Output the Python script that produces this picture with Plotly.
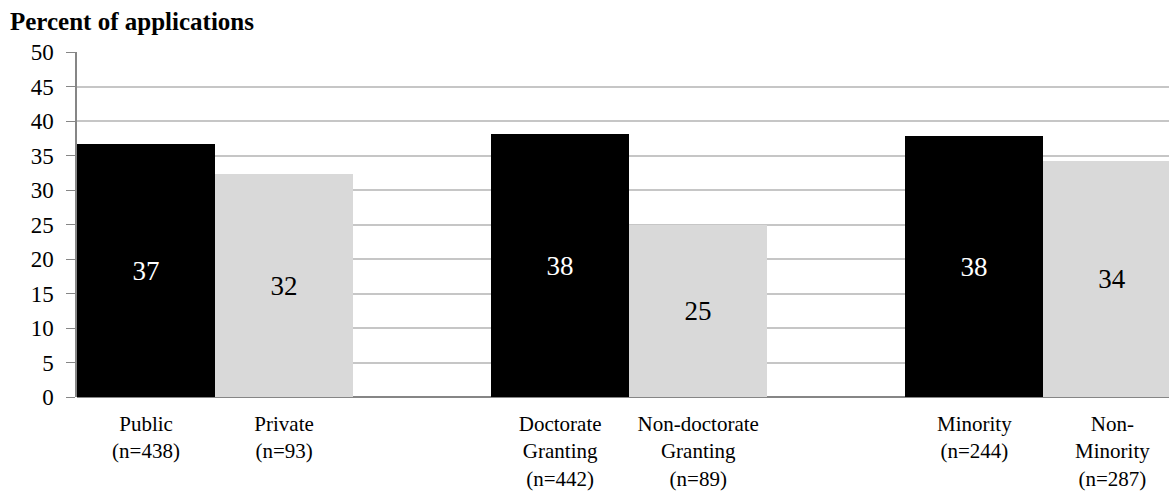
import plotly.graph_objects as go

# ---- data ----
groups = ["Type", "Degree", "Minority status"]
categories = [
    "Public<br>(n=438)", "Private<br>(n=93)",
    "Doctorate<br>Granting<br>(n=442)", "Non-doctorate<br>Granting<br>(n=89)",
    "Minority<br>(n=244)", "Non-<br>Minority<br>(n=287)",
]
values = [36.6, 32.3, 38.1, 24.9, 37.8, 34.2]
group_index = [0, 0, 1, 1, 2, 2]
member_index = [0, 1, 0, 1, 0, 1]
y_ticks = [0, 5, 10, 15, 20, 25, 30, 35, 40, 45, 50]

# ---- styling ----
bar_colors = ["#000000", "#d9d9d9"]
text_colors = ["#ffffff", "#000000"]
FONT = "Liberation Serif, Times New Roman, serif"

x_pos = [g * 3 + m for g, m in zip(group_index, member_index)]

fig = go.Figure()
fig.add_trace(go.Bar(
    x=x_pos,
    y=values,
    width=1.0,
    marker=dict(color=[bar_colors[m] for m in member_index], line=dict(width=0)),
    text=[f"{v:.0f}" for v in values],
    textposition="inside",
    insidetextanchor="middle",
    textangle=0,
    constraintext="none",
    textfont=dict(family=FONT, size=27, color=[text_colors[m] for m in member_index]),
    hoverinfo="skip",
))

fig.update_layout(
    width=1169, height=493,
    margin=dict(l=77, r=0, t=52, b=96),
    paper_bgcolor="white", plot_bgcolor="white",
    showlegend=False,
    bargap=0,
    font=dict(family=FONT, size=22, color="#000000"),
    title=dict(
        text="<b>Percent of applications</b>",
        xref="container", yref="container",
        x=10 / 1169, xanchor="left",
        y=1 - 21 / 493, yanchor="middle",
        font=dict(family=FONT, size=25, color="#000000"),
    ),
)

fig.update_xaxes(
    range=[-0.5, 7.41],
    tickmode="array",
    tickvals=x_pos,
    ticktext=categories,
    ticks="",
    showgrid=False,
    showline=False,
    zeroline=False,
    automargin=False,
    tickfont=dict(family=FONT, size=21, color="#000000"),
    ticklabelstandoff=12,
)
fig.update_yaxes(
    range=[0, 50],
    tickmode="array",
    tickvals=y_ticks,
    ticks="outside",
    ticklen=9,
    tickcolor="#868686",
    tickwidth=1,
    showline=True,
    linecolor="#868686",
    linewidth=1.5,
    showgrid=True,
    gridcolor="#c6c6c6",
    gridwidth=1.5,
    zeroline=True,
    zerolinecolor="#868686",
    zerolinewidth=1.5,
    automargin=False,
    tickfont=dict(family=FONT, size=23, color="#000000"),
    ticklabelstandoff=8,
)

fig.write_html(
    "out.html",
    config={"displayModeBar": False},
    post_script="document.body.style.margin='0';document.body.style.padding='0';",
)
